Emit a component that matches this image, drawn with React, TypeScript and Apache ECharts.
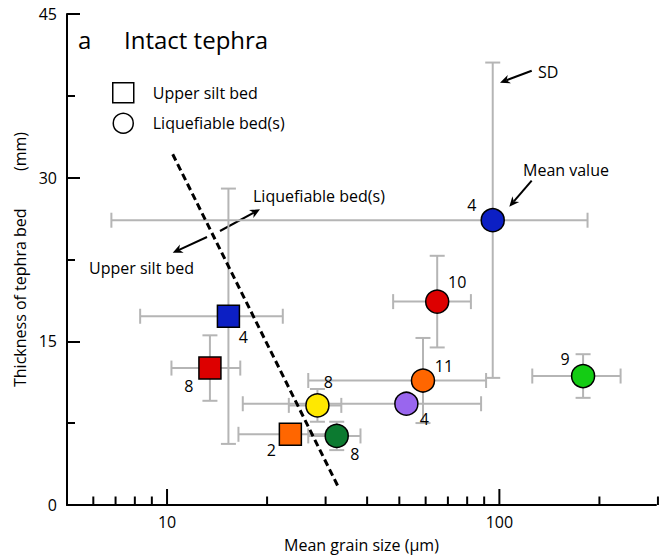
import React, { useEffect, useRef } from 'react';
import * as echarts from 'echarts';

// ---- Data ----
// Upper silt bed (squares)
const siltGrain = [15.3, 13.46, 23.5];
const siltGrainSD = [7.0, 3.15, 7.1];
const siltThick = [17.3, 12.55, 6.48];
const siltThickSD = [11.7, 3.0, 0.8];
const siltCount = ['4', '8', '2'];

// Liquefiable bed(s) (circles)
const liqGrain = [95.5, 65.0, 58.9, 52.5, 32.4, 28.35, 178.6];
const liqGrainSD = [88.7, 17.1, 32.3, 35.6, 5.8, 5.1, 53.0];
const liqThick = [26.1, 18.64, 11.41, 9.28, 6.33, 9.13, 11.82];
const liqThickSD = [14.45, 4.2, 3.9, 0.5, 1.3, 1.5, 2.0];
const liqCount = ['4', '10', '11', '4', '8', '8', '9'];

// Boundary (dashed) line end points
const boundaryGrain = [10.4, 32.6];
const boundaryThick = [32.15, 1.78];

// Axis ticks
const xTickValues = [6, 7, 8, 9, 10, 20, 30, 40, 50, 60, 70, 80, 90, 100, 200, 300];
const xMajorTicks = [10, 100];
const xLabelValues = [10, 100];

// ---- Styles ----
const siltColors = ['#0c1fc4', '#dd0000', '#ff6600'];
const liqColors = ['#0c1fc4', '#dd0000', '#ff6600', '#9966ee', '#0c7a30', '#ffe800', '#14cc14'];
const siltLabelOffset = [[15, 21], [-21, 18], [-19, 16]];
const liqLabelOffset = [[-21, -15], [20, -20], [21, -15], [18, 15], [18, 18], [11, -23], [-18, -17]];

const FONT = 'Open Sans';

function arrow(x1: number, y1: number, x2: number, y2: number) {
  const ang = Math.atan2(y2 - y1, x2 - x1);
  const hl = 10;
  const hw = 4.5;
  const c = Math.cos(ang);
  const s = Math.sin(ang);
  const bx = x2 - hl * c;
  const by = y2 - hl * s;
  const px = -s * hw;
  const py = c * hw;
  const ix = x2 - 0.7 * hl * c;
  const iy = y2 - 0.7 * hl * s;
  return [
    { type: 'line', shape: { x1, y1, x2: ix, y2: iy }, style: { stroke: '#000', lineWidth: 2 }, silent: true },
    {
      type: 'polygon',
      shape: { points: [[x2, y2], [bx + px, by + py], [ix, iy], [bx - px, by - py]] },
      style: { fill: '#000' },
      silent: true,
    },
  ];
}

export default function App() {
  const ref = useRef<HTMLDivElement>(null);

  useEffect(() => {
    if (!ref.current) return;
    const chart = echarts.init(ref.current, null, { renderer: 'svg' });

    const errData = [
      ...siltGrain.map((g, i) => [g, siltThick[i], siltGrainSD[i], siltThickSD[i]]),
      ...liqGrain.map((g, i) => [g, liqThick[i], liqGrainSD[i], liqThickSD[i]]),
    ];

    const labelBase = {
      show: true,
      position: 'inside',
      color: '#000',
      fontFamily: FONT,
      fontSize: 16,
      textBorderWidth: 0,
      textBorderColor: 'transparent',
    };

    const option: any = {
      animation: false,
      backgroundColor: '#fff',
      grid: { left: 67, top: 14, right: 2, bottom: 51.5 },
      legend: {
        orient: 'vertical',
        left: 112,
        top: 82,
        padding: 0,
        itemWidth: 21,
        itemHeight: 20,
        itemGap: 9,
        selectedMode: false,
        textStyle: { fontFamily: FONT, fontSize: 16, color: '#000', padding: [0, 0, 0, 14] },
        data: [
          { name: 'Upper silt bed', icon: 'rect', itemStyle: { color: '#fff', borderColor: '#000', borderWidth: 1.5 } },
          { name: 'Liquefiable bed(s)', icon: 'circle', itemStyle: { color: '#fff', borderColor: '#000', borderWidth: 1.5 } },
        ],
      },
      xAxis: {
        type: 'log',
        logBase: 10,
        min: 5,
        max: 296,
        name: 'Mean grain size (µm)',
        nameLocation: 'middle',
        nameGap: 32,
        nameTextStyle: { fontFamily: FONT, fontSize: 16, color: '#000' },
        axisLine: { lineStyle: { color: '#000', width: 2 } },
        axisTick: { show: false },
        splitLine: { show: false },
        axisLabel: {
          margin: 9,
          fontFamily: FONT,
          fontSize: 16,
          color: '#000',
          showMinLabel: true,
          showMaxLabel: true,
          formatter: (v: number) => {
            const r = Math.round(v);
            return xLabelValues.indexOf(r) >= 0 && Math.abs(v - r) < 1e-6 * r ? String(r) : '';
          },
        },
      },
      yAxis: {
        type: 'value',
        min: 0,
        max: 45,
        interval: 15,
        name: 'Thickness of tephra bed\u00a0\u00a0\u00a0\u00a0\u00a0\u00a0\u00a0\u00a0\u00a0(mm)',
        nameLocation: 'middle',
        nameGap: 39,
        nameTextStyle: { fontFamily: FONT, fontSize: 16, color: '#000' },
        axisLine: { show: true, lineStyle: { color: '#000', width: 2 } },
        axisTick: { show: true, inside: true, length: 13, lineStyle: { color: '#000', width: 2 } },
        minorTick: { show: true, splitNumber: 2, length: 8, lineStyle: { color: '#000', width: 2 } },
        splitLine: { show: false },
        axisLabel: { margin: 10, fontFamily: FONT, fontSize: 16, color: '#000' },
      },
      series: [
        {
          type: 'custom',
          name: 'xticks',
          silent: true,
          z: 3,
          clip: false,
          data: xTickValues.map((v) => [v, 0]),
          renderItem: (params: any, api: any) => {
            const v = api.value(0);
            const p = api.coord([v, 0]);
            const len = xMajorTicks.indexOf(v) >= 0 ? 16 : 8.5;
            return {
              type: 'line',
              shape: { x1: p[0], y1: p[1], x2: p[0], y2: p[1] - len },
              style: { stroke: '#000', lineWidth: 2 },
            };
          },
        },
        {
          type: 'custom',
          name: 'errorbars',
          silent: true,
          z: 1,
          data: errData,
          encode: { x: 0, y: 1 },
          renderItem: (params: any, api: any) => {
            const x = api.value(0);
            const y = api.value(1);
            const xs = api.value(2);
            const ys = api.value(3);
            const c = api.coord([x, y]);
            const l = api.coord([x - xs, y]);
            const r = api.coord([x + xs, y]);
            const t = api.coord([x, y + ys]);
            const b = api.coord([x, y - ys]);
            const cap = 7.5;
            const style = { stroke: '#b5b5b5', lineWidth: 2 };
            const ln = (x1: number, y1: number, x2: number, y2: number) => ({
              type: 'line',
              shape: { x1, y1, x2, y2 },
              style,
            });
            return {
              type: 'group',
              children: [
                ln(l[0], c[1], r[0], c[1]),
                ln(l[0], c[1] - cap, l[0], c[1] + cap),
                ln(r[0], c[1] - cap, r[0], c[1] + cap),
                ln(c[0], t[1], c[0], b[1]),
                ln(c[0] - cap, t[1], c[0] + cap, t[1]),
                ln(c[0] - cap, b[1], c[0] + cap, b[1]),
              ],
            };
          },
        },
        {
          type: 'line',
          name: 'boundary',
          silent: true,
          z: 2,
          showSymbol: false,
          symbol: 'none',
          data: boundaryGrain.map((g, i) => [g, boundaryThick[i]]),
          lineStyle: { color: '#000', width: 3, type: [7, 4] },
        },
        {
          type: 'scatter',
          name: 'Upper silt bed',
          z: 5,
          symbol: 'rect',
          symbolSize: 22,
          itemStyle: { borderColor: '#000', borderWidth: 1.5, opacity: 1 },
          label: { ...labelBase, formatter: (p: any) => siltCount[p.dataIndex] },
          data: siltGrain.map((g, i) => ({
            value: [g, siltThick[i]],
            itemStyle: { color: siltColors[i], opacity: 1 },
            label: { offset: siltLabelOffset[i] },
          })),
        },
        {
          type: 'scatter',
          name: 'Liquefiable bed(s)',
          z: 5,
          symbol: 'circle',
          symbolSize: 23,
          itemStyle: { borderColor: '#000', borderWidth: 1.5, opacity: 1 },
          label: { ...labelBase, formatter: (p: any) => liqCount[p.dataIndex] },
          data: liqGrain.map((g, i) => ({
            value: [g, liqThick[i]],
            itemStyle: { color: liqColors[i], opacity: 1 },
            label: { offset: liqLabelOffset[i] },
          })),
        },
      ],
      graphic: [
        {
          type: 'text',
          left: 78,
          top: 27,
          style: { text: 'a', fontFamily: FONT, fontSize: 24, fill: '#000' },
        },
        {
          type: 'text',
          left: 124,
          top: 27,
          style: { text: 'Intact tephra', fontFamily: FONT, fontSize: 24, fill: '#000' },
        },
        {
          type: 'text',
          x: 253,
          y: 196,
          style: { text: 'Liquefiable bed(s)', fontFamily: FONT, fontSize: 16, fill: '#000', verticalAlign: 'middle' },
        },
        {
          type: 'text',
          x: 89,
          y: 268,
          style: { text: 'Upper silt bed', fontFamily: FONT, fontSize: 16, fill: '#000', verticalAlign: 'middle' },
        },
        {
          type: 'text',
          x: 538,
          y: 72,
          style: { text: 'SD', fontFamily: FONT, fontSize: 16, fill: '#000', verticalAlign: 'middle' },
        },
        {
          type: 'text',
          x: 523,
          y: 170,
          style: { text: 'Mean value', fontFamily: FONT, fontSize: 16, fill: '#000', verticalAlign: 'middle' },
        },
        ...arrow(207, 237, 172.7, 252.7),
        ...arrow(220, 231, 260, 209.3),
        ...arrow(531.7, 70.7, 500, 82.7),
        ...arrow(531.7, 180.7, 509.3, 206.7),
      ],
    };

    chart.setOption(option);
    return () => {
      chart.dispose();
    };
  }, []);

  return (
    <div
      ref={ref}
      style={{ position: 'fixed', left: 0, top: 0, width: 659, height: 558, background: '#fff' }}
    />
  );
}
